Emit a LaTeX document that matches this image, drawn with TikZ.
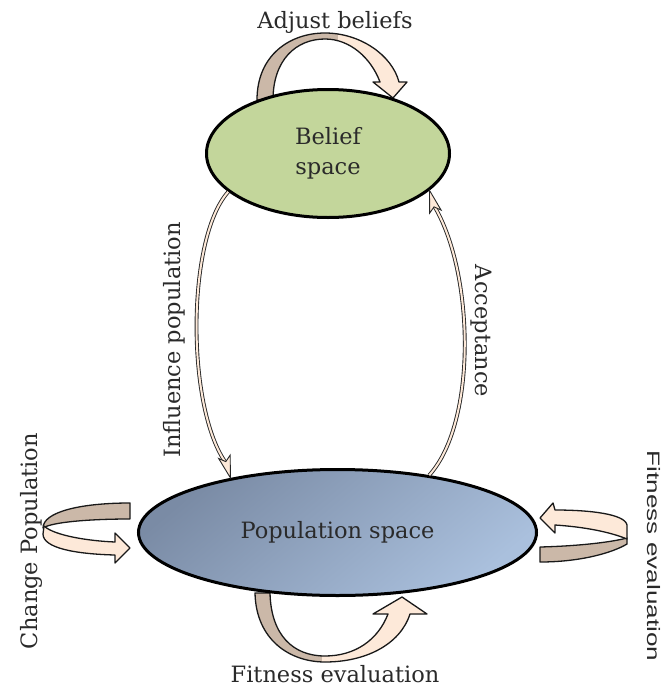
\documentclass[tikz,border=0pt]{standalone}
\usepackage{fontspec}
\setmainfont{DejaVu Serif}
\newfontfamily\sansf{Liberation Sans}
\usetikzlibrary{shapes.geometric,calc}
\definecolor{beliefgreen}{HTML}{C3D69B}
\definecolor{popdark}{HTML}{7A8BA5}
\definecolor{poplight}{HTML}{AAC0DD}
\definecolor{tanc}{HTML}{CBB8A8}
\definecolor{peachc}{HTML}{FDE9D9}
\definecolor{txt}{HTML}{2A2A2A}
\newcommand\pathAdjust{(257,-100) .. controls (257,-55) and (290,-33) .. (325,-33) .. controls (360,-33) and (392,-55) .. (399,-82) -- (407,-82) -- (393,-98) -- (373,-82) -- (380,-82) .. controls (371,-58) and (350,-39) .. (325,-39) .. controls (296,-39) and (273,-60) .. (273,-100) -- cycle}
\newcommand\pathFitBottom{(255,-593) .. controls (256,-640) and (290,-662) .. (325,-662) .. controls (365,-662) and (400,-645) .. (410,-614) -- (427,-614) -- (402,-597) -- (373,-614) -- (388,-614) .. controls (378,-640) and (355,-656) .. (325,-656) .. controls (293,-656) and (271,-635) .. (270,-593) -- cycle}
\begin{document}
\begin{tikzpicture}[x=1pt,y=1pt,
  lbl/.style={font=\fontsize{22.5}{30}\selectfont, text=txt, inner sep=0pt},
  spacebox/.style={ellipse, draw=black, line width=3pt, inner sep=0pt, align=center,
    font=\fontsize{22.5}{30}\selectfont, text=txt},
  blockline/.style={draw=black!90, line width=1.3pt, line join=round},
  thinshaft/.style={draw=black!85, line width=0.9pt, double=peachc, double distance=2pt},
  thinhead/.style={draw=black!85, fill=peachc, line width=0.9pt, line join=miter},
]
\useasboundingbox (0,0) rectangle (664,-688);

% self-loop block arrows (drawn behind the ellipses)
\fill[tanc] \pathAdjust;
\begin{scope}\clip (338,0) rectangle (664,-300); \fill[peachc] \pathAdjust; \end{scope}
\draw[blockline] \pathAdjust;

\fill[tanc] \pathFitBottom;
\begin{scope}\clip (322,-560) rectangle (664,-688); \fill[peachc] \pathFitBottom; \end{scope}
\draw[blockline] \pathFitBottom;

% left loop (Change Population)
\filldraw[blockline, fill=tanc] (130,-503) .. controls (80,-503) and (43,-512) .. (43,-528) .. controls (52,-522) and (90,-519) .. (130,-519) -- cycle;
\filldraw[blockline, fill=peachc] (44,-526) .. controls (55,-536) and (90,-541) .. (115,-542) -- (115,-533) -- (130,-548) -- (115,-563) -- (115,-555) .. controls (75,-554) and (43,-548) .. (43,-534) -- cycle;

% right loop (Fitness evaluation)
\filldraw[blockline, fill=tanc] (540,-547) .. controls (580,-546) and (612,-542) .. (627,-538) -- (627,-544) .. controls (612,-553) and (580,-562) .. (540,-562) -- cycle;
\filldraw[blockline, fill=peachc] (553,-503) -- (540,-518) -- (555,-533) -- (555,-525) .. controls (585,-527) and (610,-532) .. (627,-539) -- (627,-525) .. controls (625,-514) and (590,-510) .. (555,-510) -- cycle;

% spaces
\node[spacebox, fill=beliefgreen, minimum width=243pt, minimum height=128pt] (bel) at (328,-153.5) {Belief\\space};
\node[spacebox, top color=popdark, bottom color=poplight, shading angle=40,
      minimum width=398pt, minimum height=126pt, text depth=0.6em] (pop) at (337.5,-532.5) {Population space};

% influence population
\coordinate (it) at (pop.153.5);
\path (it) ++(106:15) coordinate (ib);
\draw[thinshaft] (bel.201.5) .. controls +(-42,-47) and +(-40,55) .. (ib);
\filldraw[thinhead] (it) -- ($(it)+(106:22)+(16:6)$) -- ($(it)+(106:17)$) -- ($(it)+(106:22)+(196:6)$) -- cycle;

% acceptance
\coordinate (at) at (bel.340.7);
\path (at) ++(285.3:15) coordinate (ab);
\draw[thinshaft] (pop.32.7) .. controls +(48,53) and +(41,-67) .. (ab);
\filldraw[thinhead] (at) -- ($(at)+(285.3:22)+(15.3:6)$) -- ($(at)+(285.3:17)$) -- ($(at)+(285.3:22)+(195.3:6)$) -- cycle;

% labels
\node[lbl, anchor=base] (tadj) at (335,-28) {Adjust beliefs};
\node[lbl, anchor=base] (tfitb) at (335,-682) {Fitness evaluation};
\node[lbl, anchor=base, rotate=90] (tinf) at (180,-340) {Influence population};
\node[lbl, anchor=base, rotate=-90] (tacc) at (475,-331) {Acceptance};
\node[lbl, anchor=base, rotate=90] (tchg) at (37,-541) {Change Population};
\node[inner sep=0pt, text=txt, font=\sansf\fontsize{18}{20}\selectfont, anchor=base, rotate=-90] (tfitr) at (647,-556) {\scalebox{1.45}[1]{Fitness evaluation}};
\end{tikzpicture}
\end{document}
